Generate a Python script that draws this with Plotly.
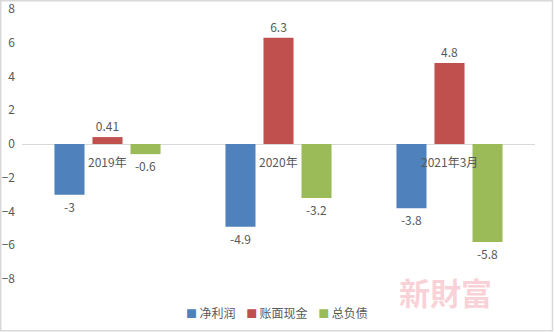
import plotly.graph_objects as go

categories = ["2019年", "2020年", "2021年3月"]
net_profit = [-3, -4.9, -3.8]
cash = [0.41, 6.3, 4.8]
liabilities = [-0.6, -3.2, -5.8]
series_names = ["净利润", "账面现金", "总负债"]
colors = ["#4F81BD", "#C0504D", "#9BBB59"]
y_ticks = [-8, -6, -4, -2, 0, 2, 4, 6, 8]

FONT = "Noto Sans CJK SC"
TXT = "#595959"

T, B, L, R = 9, 53, 22, 19
PH = 332 - T - B
PW = 554 - L - R

fig = go.Figure()
for name, vals, col in zip(series_names, [net_profit, cash, liabilities], colors):
    fig.add_trace(go.Bar(
        x=categories, y=vals, name=name,
        marker=dict(color=col, line=dict(width=0)),
        text=[f"{v:g}" for v in vals], textposition="outside",
        textfont=dict(family=FONT, size=12, color=TXT),
        cliponaxis=False, showlegend=False,
    ))

for c in categories:
    fig.add_annotation(x=c, y=0, text=c, showarrow=False, yanchor="top",
                       yshift=-7, font=dict(family=FONT, size=12, color=TXT))

# legend built as text
legend_parts = [f'<span style="color:{col};font-size:11px">■</span>&#8201;{name}'
                for name, col in zip(series_names, colors)]
fig.add_annotation(xref="paper", yref="paper", x=0.497, y=-(312 - (332 - B)) / PH,
                   yanchor="middle", xanchor="center", showarrow=False,
                   text="&nbsp;&nbsp;&nbsp;&nbsp;".join(legend_parts),
                   font=dict(family=FONT, size=12, color=TXT))

fig.add_annotation(xref="paper", yref="paper", x=(445 - L) / PW, y=-(291 - (332 - B)) / PH,
                   text="<b>新財富</b>", showarrow=False, xanchor="center", yanchor="middle",
                   font=dict(family="Noto Sans CJK TC", size=31, color="rgba(246,180,188,0.6)"))

fig.update_layout(
    width=554, height=332,
    margin=dict(l=L, r=R, t=T, b=B, autoexpand=False),
    paper_bgcolor="white", plot_bgcolor="white",
    barmode="group", bargap=0.333, bargroupgap=0.21,
    showlegend=False,
    font=dict(family=FONT, size=12, color=TXT),
)
fig.update_xaxes(showticklabels=False, showgrid=False, zeroline=False, showline=False)
fig.update_yaxes(range=[-8, 8], tickvals=y_ticks, showgrid=False, zeroline=True,
                 zerolinecolor="#D9D9D9", zerolinewidth=1, showline=False,
                 tickfont=dict(family=FONT, size=12, color=TXT), ticklabelstandoff=6,
                 ticklabeloverflow="allow")

fig.add_shape(type="rect", xref="paper", yref="paper",
              x0=-(L - 0.75) / PW, x1=1 + (R - 1.5) / PW,
              y0=-(B - 1.25) / PH, y1=1 + (T - 0.75) / PH,
              line=dict(color="#D9D9D9", width=1.5), layer="below")

fig.write_html("out.html")
